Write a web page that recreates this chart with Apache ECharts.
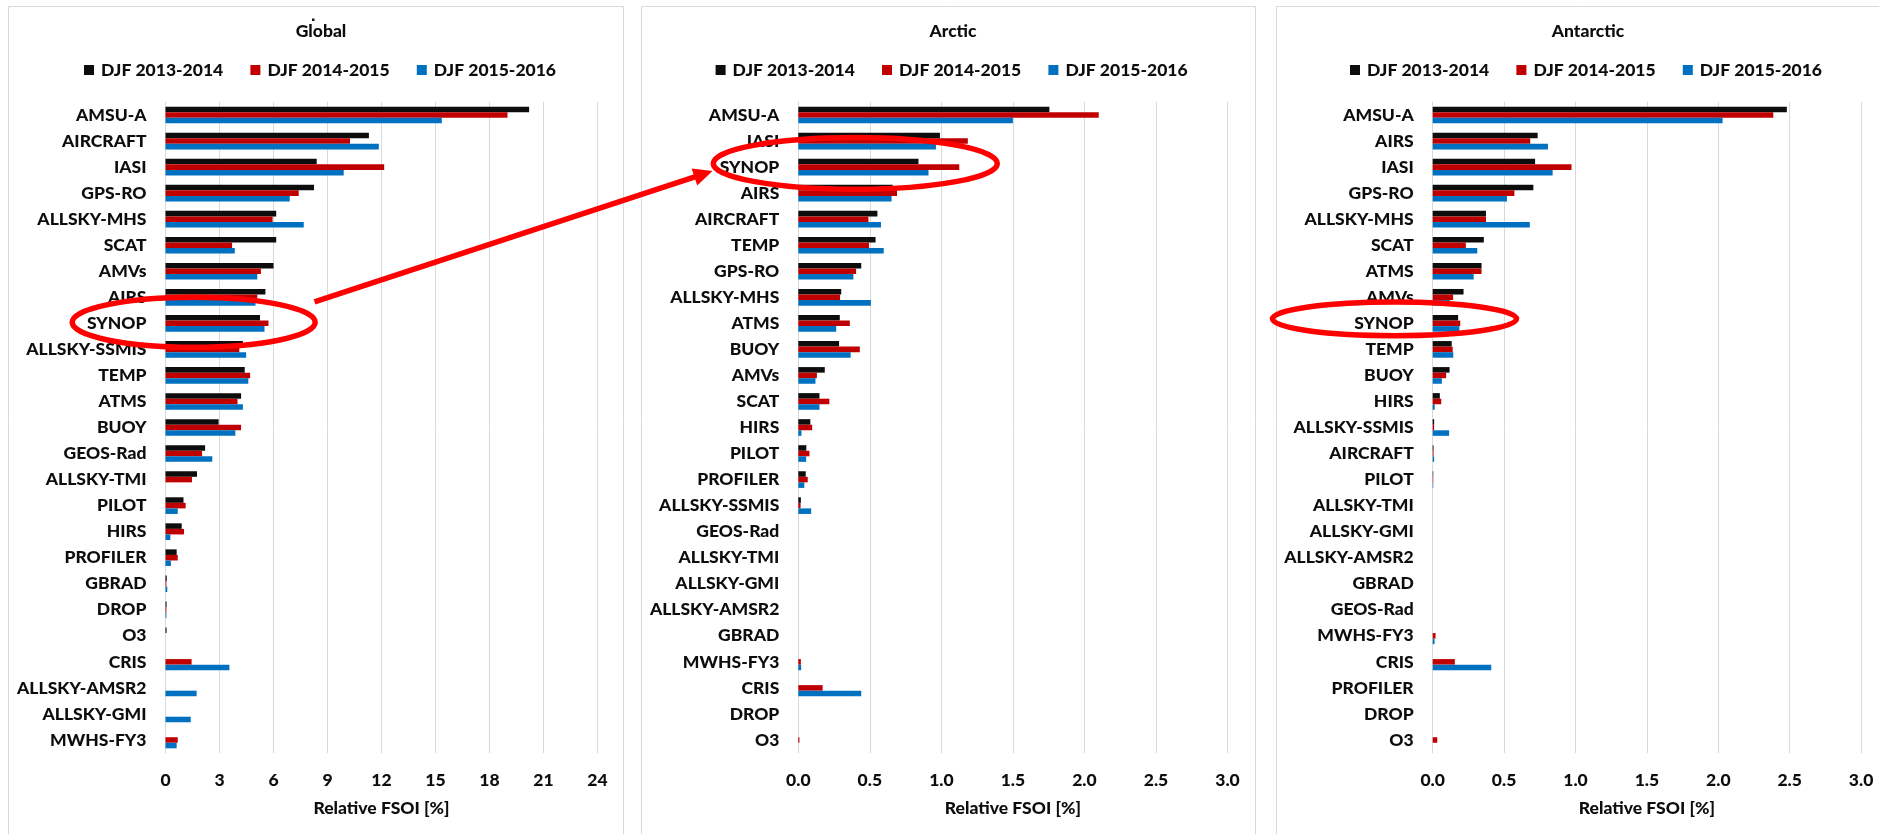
<!DOCTYPE html>
<html>
<head>
<meta charset="utf-8">
<script src="https://cdn.jsdelivr.net/npm/echarts@6/dist/echarts.min.js"></script>
<style>
  html, body { margin: 0; padding: 0; background: #ffffff; }
  #chart { width: 1879px; height: 834px; }
</style>
</head>
<body>
<div id="chart"></div>
<script>
// ---- data -------------------------------------------------------------
const seasons = ['DJF 2013-2014', 'DJF 2014-2015', 'DJF 2015-2016'];
const seasonColors = ['#0d0d0d', '#c00000', '#0070c0'];

const globalTicks = ['0', '3', '6', '9', '12', '15', '18', '21', '24'];
const polarTicks = ['0.0', '0.5', '1.0', '1.5', '2.0', '2.5', '3.0'];

const globalCategories = ['AMSU-A', 'AIRCRAFT', 'IASI', 'GPS-RO', 'ALLSKY-MHS', 'SCAT', 'AMVs', 'AIRS',
  'SYNOP', 'ALLSKY-SSMIS', 'TEMP', 'ATMS', 'BUOY', 'GEOS-Rad', 'ALLSKY-TMI', 'PILOT', 'HIRS',
  'PROFILER', 'GBRAD', 'DROP', 'O3', 'CRIS', 'ALLSKY-AMSR2', 'ALLSKY-GMI', 'MWHS-FY3'];
const globalDjf1314 = [20.2, 11.3, 8.4, 8.25, 6.15, 6.15, 6.0, 5.55, 5.25, 4.3, 4.4, 4.2, 2.95, 2.2,
  1.75, 1.0, 0.9, 0.62, 0.07, 0.06, 0.06, 0, 0, 0, 0];
const globalDjf1415 = [19.0, 10.25, 12.15, 7.4, 5.95, 3.7, 5.3, 5.1, 5.72, 4.1, 4.7, 4.0, 4.2, 2.03,
  1.47, 1.12, 1.03, 0.68, 0.05, 0.05, 0, 1.45, 0, 0, 0.68];
const globalDjf1516 = [15.35, 11.85, 9.9, 6.9, 7.68, 3.85, 5.1, 5.0, 5.5, 4.48, 4.6, 4.3, 3.88, 2.6,
  0, 0.68, 0.27, 0.3, 0.1, 0.05, 0, 3.55, 1.73, 1.4, 0.62];

const arcticCategories = ['AMSU-A', 'IASI', 'SYNOP', 'AIRS', 'AIRCRAFT', 'TEMP', 'GPS-RO', 'ALLSKY-MHS',
  'ATMS', 'BUOY', 'AMVs', 'SCAT', 'HIRS', 'PILOT', 'PROFILER', 'ALLSKY-SSMIS', 'GEOS-Rad', 'ALLSKY-TMI',
  'ALLSKY-GMI', 'ALLSKY-AMSR2', 'GBRAD', 'MWHS-FY3', 'CRIS', 'DROP', 'O3'];
const arcticDjf1314 = [1.755, 0.99, 0.84, 0.66, 0.553, 0.54, 0.44, 0.30, 0.29, 0.285, 0.185, 0.148,
  0.084, 0.056, 0.052, 0.018, 0, 0, 0, 0, 0, 0, 0, 0, 0];
const arcticDjf1415 = [2.10, 1.185, 1.125, 0.69, 0.49, 0.494, 0.404, 0.292, 0.36, 0.43, 0.13, 0.217,
  0.097, 0.078, 0.066, 0.016, 0, 0, 0, 0, 0, 0.018, 0.17, 0, 0.008];
const arcticDjf1516 = [1.50, 0.962, 0.91, 0.652, 0.578, 0.597, 0.385, 0.507, 0.265, 0.366, 0.12, 0.148,
  0.022, 0.055, 0.042, 0.09, 0, 0, 0, 0, 0, 0.02, 0.44, 0, 0];

const antarcticCategories = ['AMSU-A', 'AIRS', 'IASI', 'GPS-RO', 'ALLSKY-MHS', 'SCAT', 'ATMS', 'AMVs',
  'SYNOP', 'TEMP', 'BUOY', 'HIRS', 'ALLSKY-SSMIS', 'AIRCRAFT', 'PILOT', 'ALLSKY-TMI', 'ALLSKY-GMI',
  'ALLSKY-AMSR2', 'GBRAD', 'GEOS-Rad', 'MWHS-FY3', 'CRIS', 'PROFILER', 'DROP', 'O3'];
const antarcticDjf1314 = [2.48, 0.735, 0.717, 0.705, 0.373, 0.358, 0.342, 0.216, 0.178, 0.133, 0.118,
  0.05, 0.01, 0.006, 0.004, 0, 0, 0, 0, 0, 0, 0, 0, 0, 0];
const antarcticDjf1415 = [2.385, 0.683, 0.972, 0.572, 0.373, 0.232, 0.342, 0.143, 0.193, 0.14, 0.094,
  0.06, 0.01, 0.006, 0.004, 0, 0, 0, 0, 0, 0.02, 0.155, 0, 0, 0.032];
const antarcticDjf1516 = [2.03, 0.807, 0.84, 0.52, 0.68, 0.312, 0.287, 0.12, 0.187, 0.144, 0.064,
  0.014, 0.115, 0.01, 0.004, 0, 0, 0, 0, 0, 0.013, 0.41, 0, 0, 0];

// ---- layout -----------------------------------------------------------
const FONT = 'Lato, "Open Sans", sans-serif';
const TEXT_COLOR = '#0d0d0d';
const GRID_COLOR = '#d9d9d9';
const baseText = { fontFamily: FONT, fontWeight: 900, fontSize: 17.5, color: TEXT_COLOR };

const panels = [
  { title: 'Global', cats: globalCategories, values: [globalDjf1314, globalDjf1415, globalDjf1516],
    ticks: globalTicks, decimals: 0,
    frame: { x: 8, w: 615 }, titleX: 316, legendX: 84, grid: { left: 165.5, width: 432 } },
  { title: 'Arctic', cats: arcticCategories, values: [arcticDjf1314, arcticDjf1415, arcticDjf1516],
    ticks: polarTicks, decimals: 1,
    frame: { x: 641, w: 614 }, titleX: 948, legendX: 715.6, grid: { left: 798.3, width: 429.2 } },
  { title: 'Antarctic', cats: antarcticCategories, values: [antarcticDjf1314, antarcticDjf1415, antarcticDjf1516],
    ticks: polarTicks, decimals: 1,
    frame: { x: 1276, w: 620 }, titleX: 1583, legendX: 1350, grid: { left: 1432.7, width: 428.4 } }
];

const GRID_TOP = 102;
const GRID_HEIGHT = 651;
const LEGEND_STEP = 166.4;   // distance between legend entries

const legends = [];
panels.forEach(p => {
  seasons.forEach((s, k) => {
    legends.push({
      data: [s], left: p.legendX + k * LEGEND_STEP, top: 61, padding: 0,
      icon: 'rect', itemWidth: 10, itemHeight: 10, selectedMode: false,
      textStyle: Object.assign({ padding: [0, 0, 0, 2] }, baseText)
    });
  });
});

const option = {
  backgroundColor: '#ffffff',
  animation: false,
  title: panels.map(p => ({
    text: p.title, left: p.titleX, top: 17, textAlign: 'center',
    textStyle: Object.assign({}, baseText)
  })),
  legend: legends,
  grid: panels.map(p => ({ left: p.grid.left, width: p.grid.width, top: GRID_TOP, height: GRID_HEIGHT })),
  xAxis: panels.map((p, i) => {
    const t = p.ticks.map(Number);
    return {
      type: 'value', gridIndex: i,
      min: t[0], max: t[t.length - 1], interval: t[1] - t[0],
      axisLine: { show: false }, axisTick: { show: false },
      splitLine: { show: true, lineStyle: { color: GRID_COLOR, width: 1 } },
      axisLabel: Object.assign({ margin: 18, formatter: v => v.toFixed(p.decimals) }, baseText),
      name: 'Relative FSOI [%]', nameLocation: 'middle', nameGap: 46,
      nameTextStyle: Object.assign({}, baseText)
    };
  }),
  yAxis: panels.map((p, i) => ({
    type: 'category', gridIndex: i, data: p.cats, inverse: true,
    axisLine: { show: true, lineStyle: { color: GRID_COLOR, width: 1 } },
    axisTick: { show: false },
    splitLine: { show: false },
    axisLabel: Object.assign({ margin: 19, interval: 0 }, baseText)
  })),
  series: []
};

panels.forEach((p, i) => {
  seasons.forEach((s, k) => {
    option.series.push({
      type: 'bar', name: s, xAxisIndex: i, yAxisIndex: i,
      data: p.values[k],
      itemStyle: { color: seasonColors[k] },
      barGap: '0%', barCategoryGap: '36%'
    });
  });
});

const chart = echarts.init(document.getElementById('chart'), null, { renderer: 'canvas' });
chart.setOption(option);

// ---- annotations: panel frames, SYNOP highlight rings and the arrow ----
const RED = '#ff0000';
const RING_W = 5.5;

function synopCenter(idx) {
  const y = chart.convertToPixel({ yAxisIndex: idx }, 'SYNOP');
  const x0 = chart.convertToPixel({ xAxisIndex: idx }, 0);
  return [x0, y];
}

const gS = synopCenter(0), aS = synopCenter(1), sS = synopCenter(2);
const rings = [
  { cx: gS[0] + 28.2, cy: gS[1] - 1, rx: 121.5, ry: 25 },
  { cx: aS[0] + 57, cy: aS[1] - 3.7, rx: 142, ry: 25.8 },
  { cx: sS[0] - 38.2, cy: sS[1] - 4.5, rx: 122, ry: 16.8 }
];

const graphics = [];
panels.forEach(p => {
  graphics.push({
    type: 'rect', silent: true, z: -10,
    shape: { x: p.frame.x + 0.5, y: 6.5, width: p.frame.w, height: 900 },
    style: { fill: 'none', stroke: GRID_COLOR, lineWidth: 1 }
  });
});
rings.forEach(r => {
  graphics.push({
    type: 'ellipse', silent: true, z: 100,
    shape: { cx: r.cx, cy: r.cy, rx: r.rx, ry: r.ry },
    style: { fill: 'none', stroke: RED, lineWidth: RING_W }
  });
});

// arrow from the Global ring to the Arctic ring
const start = [rings[0].cx + 120.8, rings[0].cy - 20.5];
const tip = [rings[1].cx - 142.8, rings[1].cy + 7.7];
const dx = tip[0] - start[0], dy = tip[1] - start[1];
const len = Math.hypot(dx, dy);
const ux = dx / len, uy = dy / len;
const nx = -uy, ny = ux;
const headLen = 19, headHalf = 9;
const base = [tip[0] - ux * headLen, tip[1] - uy * headLen];
graphics.push({
  type: 'line', silent: true, z: 100,
  shape: { x1: start[0], y1: start[1], x2: base[0] + ux * 2, y2: base[1] + uy * 2 },
  style: { stroke: RED, lineWidth: 5.5 }
});
graphics.push({
  type: 'polygon', silent: true, z: 100,
  shape: { points: [tip, [base[0] + nx * headHalf, base[1] + ny * headHalf],
                         [base[0] - nx * headHalf, base[1] - ny * headHalf]] },
  style: { fill: RED }
});
// small dot that sits above the Global heading
graphics.push({
  type: 'rect', silent: true, z: 100,
  shape: { x: 312, y: 18.5, width: 2.5, height: 2.5 },
  style: { fill: '#111111' }
});

chart.setOption({ graphic: graphics });
</script>
</body>
</html>
